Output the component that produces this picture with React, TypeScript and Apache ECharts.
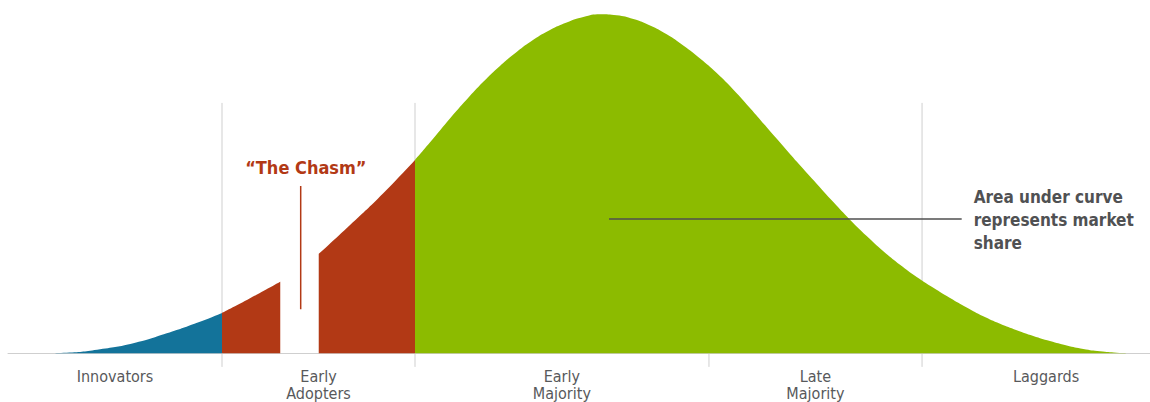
import React, { useEffect, useRef } from "react";
import * as echarts from "echarts";

// ---- Data (x: adoption timeline 0–100, y: share of adopters, peak = 100) ----
const innovatorsX = [0, 2.19, 5.14, 8.06, 10.97, 13.9, 16.81, 18.74];
const innovatorsY = [0, 0, 0.18, 1.18, 2.95, 5.89, 9.31, 11.88];

const earlyAdoptersAX = [18.74, 21.19, 23.84];
const earlyAdoptersAY = [11.88, 16.2, 21.1];

const earlyAdoptersBX = [27.21, 29.95, 32.86, 35.64];
const earlyAdoptersBY = [29.27, 37.8, 47.2, 57.0];

const mainstreamX = [
  35.64, 37.24, 38.7, 40.17, 41.62, 43.08, 44.54, 46.0, 47.46, 48.92, 50.38, 51.84,
  53.3, 54.76, 56.22, 57.68, 59.13, 60.6, 62.06, 63.52, 64.97, 66.44, 67.89, 69.35,
  70.81, 72.27, 73.73, 75.19, 76.65, 78.11, 79.57, 81.03, 82.49, 83.95, 85.4, 86.87,
  88.33, 89.78, 91.24, 92.71, 94.16, 95.62, 97.08, 98.54, 100,
];
const mainstreamY = [
  57.0, 63.3, 69.2, 74.8, 80.0, 84.7, 88.8, 92.4, 95.3, 97.5, 99.1, 99.9,
  99.6, 98.5, 96.6, 94.0, 90.7, 86.9, 82.6, 77.7, 72.3, 66.6, 61.0, 55.4,
  50.0, 44.6, 39.4, 34.6, 30.1, 26.1, 22.5, 19.3, 16.3, 13.5, 10.9, 8.7,
  6.8, 5.1, 3.6, 2.3, 1.3, 0.6, 0.2, 0.05, 0,
];

const segmentBoundaries = [18.74, 35.64, 61.38, 80.04];
const boundaryTop = 73.8;
const boundaryBottom = -4;

const segmentLabels = ["Innovators", "Early\nAdopters", "Early\nMajority", "Late\nMajority", "Laggards"];
const segmentLabelX = [9.37, 27.19, 48.5, 70.7, 90.9];

const chasmLineX = 25.63;
const chasmLineY = [13.0, 49.3];
const chasmText = "“The Chasm”";
const chasmTextAt = [26.08, 54.9];

const annotationX = [52.63, 83.51];
const annotationY = 39.6;
const annotationText = "Area under curve\nrepresents market\nshare";

const BLUE = "#13739a";
const RED = "#b23915";
const GREEN = "#8cbb00";
const FONT = "'DejaVu Sans Condensed', 'DejaVu Sans', sans-serif";

const zip = (xs: number[], ys: number[]) => xs.map((x, i) => [x, ys[i]]);

function areaSeries(name: string, xs: number[], ys: number[], color: string) {
  return {
    name,
    type: "line",
    data: zip(xs, ys),
    smooth: 0.5,
    showSymbol: false,
    symbol: "none",
    z: 3,
    lineStyle: { width: 0, color },
    itemStyle: { color },
    areaStyle: { color, opacity: 1, origin: 0 },
    silent: true,
  };
}

export default function App() {
  const ref = useRef<HTMLDivElement>(null);

  useEffect(() => {
    if (!ref.current) return;
    const chart = echarts.init(ref.current, null, { renderer: "svg" });

    const boundarySeries = segmentBoundaries.map((bx, i) => ({
      name: "boundary" + i,
      type: "line",
      data: [
        [bx, boundaryTop],
        [bx, boundaryBottom],
      ],
      showSymbol: false,
      symbol: "none",
      z: 1,
      silent: true,
      lineStyle: { color: "#cfcfcf", width: 1 },
    }));

    const option: any = {
      animation: false,
      grid: { left: 8, right: 0, top: 14, bottom: 35.1, outerBoundsMode: "none", containLabel: false },
      xAxis: {
        type: "value",
        min: 0,
        max: 100,
        axisLine: { show: true, onZero: true, lineStyle: { color: "#cfcfcf", width: 1 } },
        axisTick: { show: false },
        splitLine: { show: false },
        axisLabel: {
          customValues: segmentLabelX,
          formatter: (v: number) => {
            const i = segmentLabelX.findIndex((p) => Math.abs(p - v) < 1e-6);
            return i >= 0 ? segmentLabels[i] : "";
          },
          margin: 1,
          color: "#58595b",
          fontFamily: FONT,
          fontSize: 16,
          lineHeight: 17,
          hideOverlap: false,
        },
      },
      yAxis: { type: "value", min: boundaryBottom, max: 100, show: false },
      series: [
        ...boundarySeries,
        areaSeries("Innovators", innovatorsX, innovatorsY, BLUE),
        areaSeries("Early Adopters A", earlyAdoptersAX, earlyAdoptersAY, RED),
        areaSeries("Early Adopters B", earlyAdoptersBX, earlyAdoptersBY, RED),
        areaSeries("Majority & Laggards", mainstreamX, mainstreamY, GREEN),
        {
          name: "chasm",
          type: "line",
          data: [
            [chasmLineX, chasmLineY[0]],
            [chasmLineX, chasmLineY[1]],
          ],
          showSymbol: false,
          symbol: "none",
          z: 4,
          silent: true,
          lineStyle: { color: RED, width: 1.5 },
        },
        {
          name: "annotation",
          type: "line",
          data: [
            [annotationX[0], annotationY],
            [annotationX[1], annotationY],
          ],
          showSymbol: false,
          symbol: "none",
          z: 4,
          silent: true,
          lineStyle: { color: "#4f4f4f", width: 1.5 },
        },
      ],
    };
    chart.setOption(option);

    const pc = chart.convertToPixel({ gridIndex: 0 }, chasmTextAt) as number[];
    const pa = chart.convertToPixel({ gridIndex: 0 }, [annotationX[1], annotationY]) as number[];
    chart.setOption({
      graphic: [
        {
          type: "text",
          x: pc[0],
          y: pc[1],
          z: 10,
          style: {
            text: chasmText,
            fill: RED,
            fontFamily: FONT,
            fontWeight: "bold",
            fontSize: 18,
            align: "center",
            verticalAlign: "middle",
          },
        },
        {
          type: "text",
          x: pa[0] + 12,
          y: pa[1] + 1,
          z: 10,
          style: {
            text: annotationText,
            fill: "#505153",
            fontFamily: FONT,
            fontWeight: "bold",
            fontSize: 17,
            lineHeight: 23,
            align: "left",
            verticalAlign: "middle",
          },
        },
      ],
    });

    return () => chart.dispose();
  }, []);

  return (
    <div
      ref={ref}
      style={{ position: "absolute", left: 0, top: 0, width: 1150, height: 402, background: "#ffffff" }}
    />
  );
}
